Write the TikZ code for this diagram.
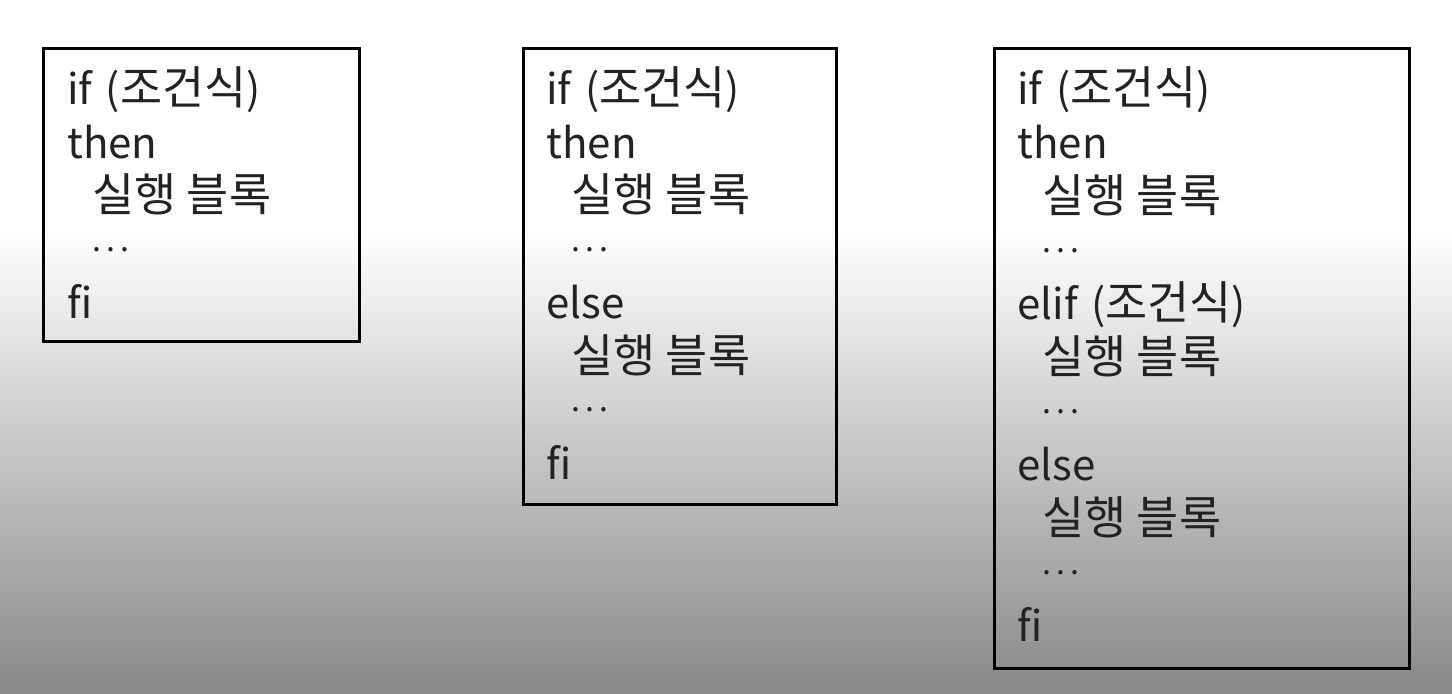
\documentclass[tikz,border=0pt]{standalone}
\usepackage{fontspec}
\setmainfont{Noto Sans CJK KR}
\newfontfamily\hfont{Noto Sans CJK KR}[Scale=1.09]
\definecolor{ink}{HTML}{222222}
\definecolor{bgbottom}{HTML}{888888}
\newcommand\mydots{\raisebox{7pt}{\fontsize{16pt}{16pt}\selectfont .\kern2.5pt.\kern2.5pt.}}
\newcommand\cond{\kern2pt({\hfont 조건식})}
\newcommand\blk{{\hfont 실행 블록}}
\tikzset{
  txt/.style={anchor=base west, inner sep=0pt, text=ink, font=\fontsize{21pt}{26pt}\selectfont},
  frame/.style={draw=black, line width=1.5pt}
}
\begin{document}
\begin{tikzpicture}[x=0.5pt, y=-0.5pt]
\useasboundingbox (0,0) rectangle (1452,694);
\fill[white] (0,0) rectangle (1452,231);
\shade[top color=white, bottom color=bgbottom] (0,230) rectangle (1452,694);
% box 1
\node[frame, minimum width=158pt, minimum height=146.5pt, anchor=north west, inner sep=0pt] (box1) at (42,47) {};
\foreach \ind/\t [count=\i] in {0/if \cond, 0/then, 1/\blk, 1/\mydots, 0/fi}
  \node[txt] (b1l\i) at ({67+25*\ind}, {105+53.5*(\i-1)}) {\t};
% box 2
\node[frame, minimum width=156.5pt, minimum height=228pt, anchor=north west, inner sep=0pt] (box2) at (522,47) {};
\foreach \ind/\t [count=\i] in {0/if \cond, 0/then, 1/\blk, 1/\mydots, 0/else, 1/\blk, 1/\mydots, 0/fi}
  \node[txt] (b2l\i) at ({546+25*\ind}, {105+53.5*(\i-1)}) {\t};
% box 3
\node[frame, minimum width=207.5pt, minimum height=310pt, anchor=north west, inner sep=0pt] (box3) at (993,47) {};
\foreach \ind/\t [count=\i] in {0/if \cond, 0/then, 1/\blk, 1/\mydots, 0/elif \cond, 1/\blk, 1/\mydots, 0/else, 1/\blk, 1/\mydots, 0/fi}
  \node[txt] (b3l\i) at ({1017+25*\ind}, {105+53.7*(\i-1)}) {\t};
\end{tikzpicture}
\end{document}
